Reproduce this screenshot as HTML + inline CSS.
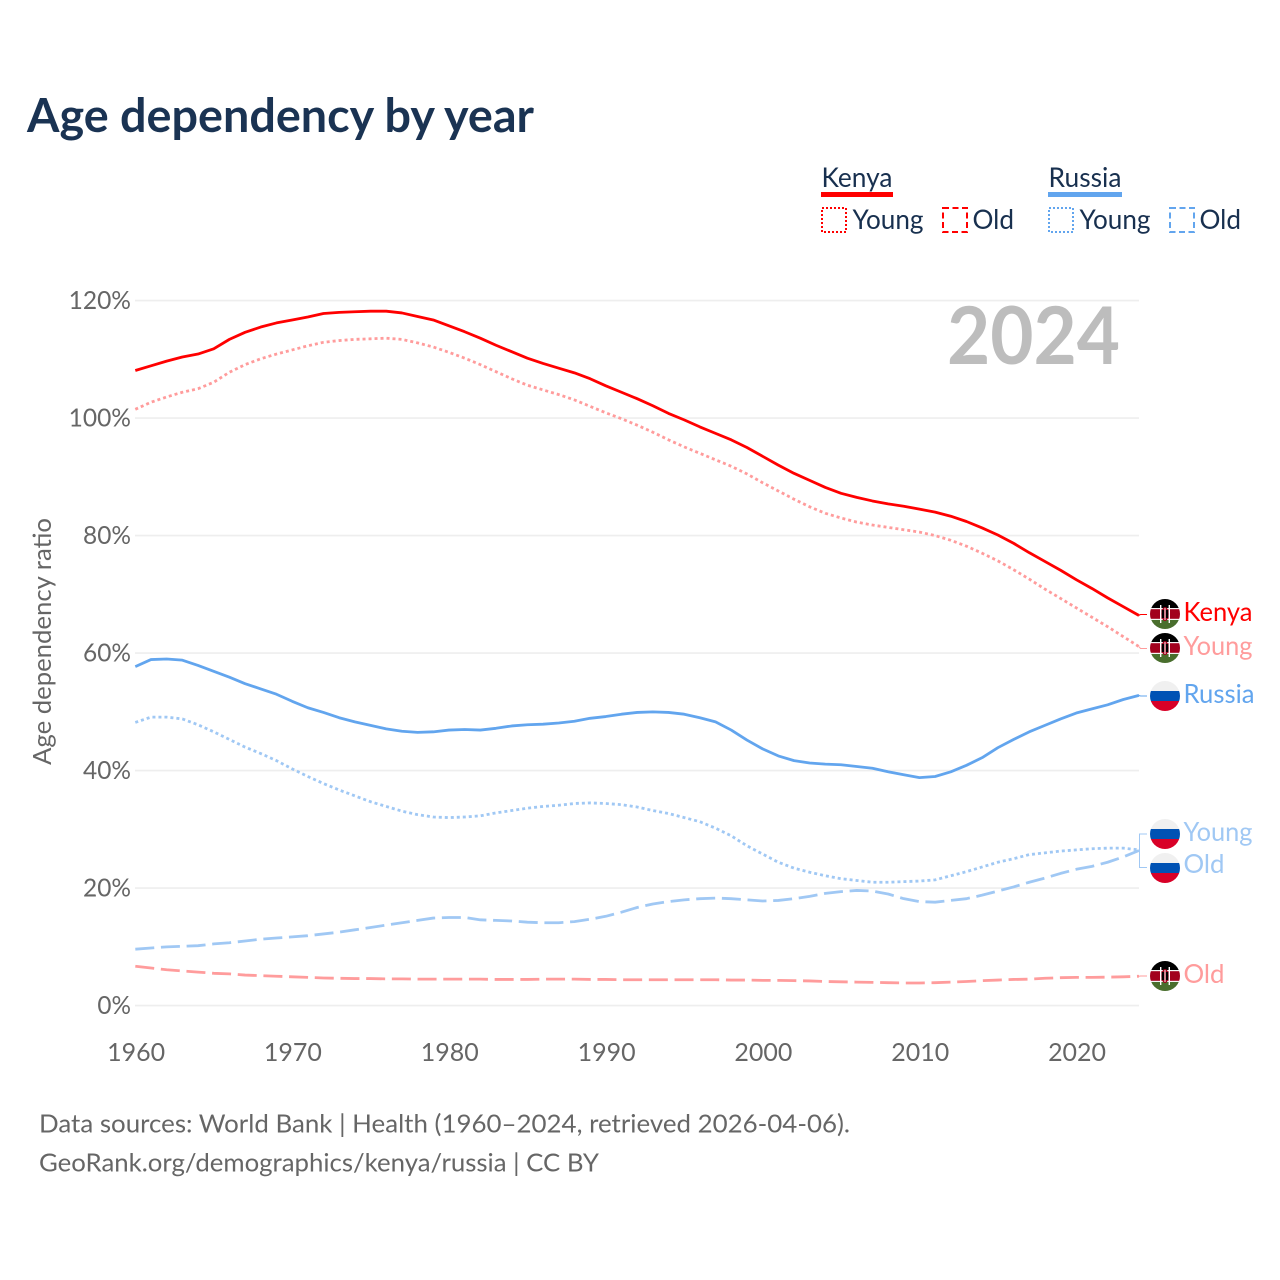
<!DOCTYPE html>
<html lang="en">
<head>
<meta charset="utf-8">
<title>Age dependency by year</title>
<style>
html,body{margin:0;padding:0;background:#fff;}
svg{display:block;}
text{font-family:"Lato","Carlito","Liberation Sans",sans-serif;}
</style>
</head>
<body>
<svg id="chart" xmlns="http://www.w3.org/2000/svg" width="1280" height="1280" viewBox="0 0 1280 1280">
  <defs>
    <clipPath id="flag-clip"><circle cx="0" cy="0" r="15"/></clipPath>
    <g id="flag-kenya">
      <g clip-path="url(#flag-clip)">
        <rect x="-15" y="-15" width="30" height="30" fill="#f4f4f4"/>
        <rect x="-15" y="-15" width="30" height="9" fill="#000"/>
        <rect x="-15" y="-4.8" width="30" height="9.6" fill="#a2001d"/>
        <rect x="-15" y="6" width="30" height="9" fill="#496e2d"/>
        <rect x="-5" y="-9" width="1.4" height="18" fill="#fff"/>
        <rect x="3.6" y="-9" width="1.4" height="18" fill="#fff"/>
        <ellipse cx="0" cy="0" rx="3.6" ry="7" fill="#a2001d"/>
        <rect x="-3.2" y="-4" width="2.2" height="8" fill="#000"/>
        <rect x="1" y="-4" width="2.2" height="8" fill="#000"/>
        <rect x="-0.5" y="-6" width="1" height="12" fill="#fff"/>
      </g>
    </g>
    <g id="flag-russia">
      <g clip-path="url(#flag-clip)">
        <rect x="-15" y="-15" width="30" height="10" fill="#f0f0f0"/>
        <rect x="-15" y="-5" width="30" height="10" fill="#0052b4"/>
        <rect x="-15" y="5" width="30" height="10" fill="#d80027"/>
      </g>
    </g>
  </defs>

  <rect x="0" y="0" width="1280" height="1280" fill="#ffffff"/>

  <text x="27" y="132" font-size="47" font-weight="700" fill="#1a3353" textLength="507" lengthAdjust="spacingAndGlyphs">Age dependency by year</text>

  <g font-size="27" fill="#18304f">
    <text x="821.5" y="187" textLength="71" lengthAdjust="spacingAndGlyphs">Kenya</text>
    <rect x="821" y="192" width="72" height="5" fill="#ff0000"/>
    <rect x="822" y="208" width="24" height="24" fill="none" stroke="#ff0000" stroke-width="2" stroke-dasharray="2 2"/>
    <text x="852.5" y="229" textLength="71" lengthAdjust="spacingAndGlyphs">Young</text>
    <rect x="943" y="208" width="24" height="24" fill="none" stroke="#ff0000" stroke-width="2" stroke-dasharray="6 3.5"/>
    <text x="972.5" y="229" textLength="41.5" lengthAdjust="spacingAndGlyphs">Old</text>
    <text x="1048.5" y="187" textLength="73" lengthAdjust="spacingAndGlyphs">Russia</text>
    <rect x="1048" y="192" width="74" height="5" fill="#62a5ee"/>
    <rect x="1049" y="208" width="24" height="24" fill="none" stroke="#62a5ee" stroke-width="2" stroke-dasharray="2 2"/>
    <text x="1079.5" y="229" textLength="71" lengthAdjust="spacingAndGlyphs">Young</text>
    <rect x="1170" y="208" width="24" height="24" fill="none" stroke="#62a5ee" stroke-width="2" stroke-dasharray="6 3.5"/>
    <text x="1199.5" y="229" textLength="41.5" lengthAdjust="spacingAndGlyphs">Old</text>
  </g>

  <g id="grid"></g>
  <g id="y-ticks"></g>
  <g id="x-ticks"></g>

  <text transform="translate(51,641.5) rotate(-90)" text-anchor="middle" font-size="25" fill="#666666" textLength="247" lengthAdjust="spacingAndGlyphs">Age dependency ratio</text>

  <text x="947" y="364" font-size="80" font-weight="700" fill="#bdbdbd" textLength="173" lengthAdjust="spacingAndGlyphs">2024</text>

  <g id="series"></g>
  <g id="connectors"></g>

  <g font-size="26">
    <use href="#flag-kenya" x="1165" y="614"/>
    <text x="1183.5" y="621" fill="#ff0000" textLength="69" lengthAdjust="spacingAndGlyphs">Kenya</text>
    <use href="#flag-kenya" x="1165" y="648"/>
    <text x="1183.5" y="655" fill="#ff9c9c" textLength="69" lengthAdjust="spacingAndGlyphs">Young</text>
    <use href="#flag-russia" x="1165" y="696"/>
    <text x="1183.5" y="703" fill="#62a5ee" textLength="71" lengthAdjust="spacingAndGlyphs">Russia</text>
    <use href="#flag-russia" x="1165" y="834"/>
    <text x="1183.5" y="841" fill="#a0c8f4" textLength="69" lengthAdjust="spacingAndGlyphs">Young</text>
    <use href="#flag-russia" x="1165" y="868"/>
    <text x="1183.5" y="873" fill="#a0c8f4" textLength="41" lengthAdjust="spacingAndGlyphs">Old</text>
    <use href="#flag-kenya" x="1165" y="976"/>
    <text x="1183.5" y="983" fill="#ff9c9c" textLength="41" lengthAdjust="spacingAndGlyphs">Old</text>
  </g>

  <g font-size="25.5" fill="#666666">
    <text x="39" y="1132.5" textLength="811" lengthAdjust="spacingAndGlyphs">Data sources: World Bank | Health (1960–2024, retrieved 2026-04-06).</text>
    <text x="39" y="1171.5" textLength="560" lengthAdjust="spacingAndGlyphs">GeoRank.org/demographics/kenya/russia | CC BY</text>
  </g>
</svg>

<script>
const startYear = 1960;
const xTickYears = [1960, 1970, 1980, 1990, 2000, 2010, 2020];
const yTickValues = [0, 20, 40, 60, 80, 100, 120];

const kenyaTotal = [108.1,108.9,109.7,110.4,110.9,111.8,113.4,114.6,115.5,116.2,116.7,117.2,117.8,118.0,118.1,118.2,118.2,117.9,117.3,116.7,115.7,114.7,113.6,112.4,111.3,110.2,109.3,108.5,107.7,106.7,105.5,104.4,103.3,102.1,100.8,99.7,98.5,97.4,96.3,95.0,93.5,92.0,90.6,89.4,88.2,87.2,86.5,85.9,85.4,85.0,84.5,84.0,83.3,82.4,81.3,80.1,78.7,77.1,75.6,74.1,72.5,71.0,69.4,67.9,66.4];
const kenyaYoung = [101.5,102.7,103.6,104.4,105.0,106.1,107.8,109.1,110.1,110.9,111.6,112.3,112.9,113.2,113.4,113.5,113.6,113.4,112.8,112.1,111.2,110.2,109.1,107.9,106.7,105.6,104.8,104.0,103.1,102.0,100.9,99.9,98.8,97.6,96.3,95.1,94.0,92.9,91.8,90.5,89.0,87.6,86.2,84.9,83.8,83.0,82.3,81.8,81.4,81.0,80.6,80.0,79.2,78.2,77.0,75.7,74.2,72.6,70.9,69.3,67.7,66.1,64.5,62.8,61.1];
const kenyaOld = [6.7,6.4,6.1,5.9,5.7,5.5,5.4,5.2,5.1,5.0,4.9,4.8,4.7,4.65,4.6,4.6,4.55,4.55,4.5,4.5,4.5,4.5,4.5,4.45,4.45,4.45,4.5,4.5,4.5,4.45,4.45,4.4,4.4,4.4,4.4,4.4,4.4,4.4,4.35,4.35,4.3,4.3,4.25,4.2,4.1,4.05,4.0,3.95,3.9,3.85,3.85,3.9,4.0,4.1,4.25,4.35,4.45,4.5,4.65,4.75,4.8,4.8,4.85,4.9,5.0];
const russiaTotal = [57.7,58.9,59.0,58.8,57.9,56.9,55.9,54.8,53.9,53.0,51.8,50.7,49.9,49.0,48.3,47.7,47.1,46.7,46.5,46.6,46.9,47.0,46.9,47.2,47.6,47.8,47.9,48.1,48.4,48.9,49.2,49.6,49.9,50.0,49.9,49.6,49.0,48.3,46.9,45.2,43.7,42.5,41.7,41.3,41.1,41.0,40.7,40.4,39.8,39.3,38.8,39.0,39.8,40.9,42.2,43.9,45.3,46.6,47.7,48.8,49.8,50.5,51.2,52.1,52.8];
const russiaYoung = [48.2,49.1,49.1,48.8,47.8,46.6,45.3,44.0,42.9,41.7,40.3,39.0,37.8,36.7,35.7,34.7,33.9,33.1,32.5,32.1,32.0,32.1,32.3,32.8,33.2,33.6,33.9,34.1,34.4,34.5,34.4,34.2,33.8,33.2,32.7,32.0,31.3,30.2,28.9,27.2,25.8,24.4,23.4,22.7,22.1,21.6,21.3,21.0,21.0,21.1,21.2,21.4,22.1,22.8,23.6,24.4,25.0,25.7,26.0,26.3,26.5,26.7,26.8,26.8,26.5];
const russiaOld = [9.6,9.8,10.0,10.1,10.2,10.5,10.7,11.0,11.3,11.5,11.7,11.9,12.2,12.5,12.9,13.3,13.7,14.1,14.5,14.9,15.0,15.0,14.6,14.5,14.4,14.2,14.1,14.1,14.3,14.7,15.2,15.9,16.7,17.3,17.7,18.0,18.2,18.3,18.2,18.0,17.8,17.9,18.2,18.6,19.1,19.4,19.6,19.5,19.0,18.2,17.7,17.6,17.9,18.2,18.8,19.5,20.2,21.0,21.7,22.5,23.2,23.7,24.4,25.3,26.4];

const svgNS = 'http://www.w3.org/2000/svg';
function xScale(year) { return 135.3 + (year - 1960) * (1139 - 135.3) / 64; }
function yScale(value) { return 1005.6 - value * (1005.6 - 300.6) / 120; }

function linePath(values) {
  return values.map(function (v, i) {
    return (i ? 'L' : 'M') + xScale(startYear + i).toFixed(2) + ' ' + yScale(v).toFixed(2);
  }).join(' ');
}

const gridGroup = document.getElementById('grid');
const yTickGroup = document.getElementById('y-ticks');
const xTickGroup = document.getElementById('x-ticks');
const seriesGroup = document.getElementById('series');
const connectorGroup = document.getElementById('connectors');

yTickValues.forEach(function (v) {
  const line = document.createElementNS(svgNS, 'line');
  
  
  line.setAttribute('x1', 135);
  line.setAttribute('x2', 1139);
  line.setAttribute('y1', yScale(v));
  line.setAttribute('y2', yScale(v));
  line.setAttribute('stroke', '#eeeeee');
  line.setAttribute('stroke-width', '1.6');
  gridGroup.appendChild(line);

  const label = document.createElementNS(svgNS, 'text');
  
  
  label.setAttribute('x', 131);
  label.setAttribute('y', yScale(v) + 8.6);
  label.setAttribute('text-anchor', 'end');
  label.setAttribute('font-size', '25');
  label.setAttribute('fill', '#666666');
  label.setAttribute('textLength', String(String(v).length * 14.4 + 19.2));
  label.setAttribute('lengthAdjust', 'spacingAndGlyphs');
  label.textContent = v + '%';
  yTickGroup.appendChild(label);
});

xTickYears.forEach(function (year) {
  const label = document.createElementNS(svgNS, 'text');
  
  
  label.setAttribute('x', xScale(year) + 0.8);
  label.setAttribute('y', 1061);
  label.setAttribute('text-anchor', 'middle');
  label.setAttribute('font-size', '25');
  label.setAttribute('fill', '#666666');
  label.setAttribute('textLength', '58');
  label.setAttribute('lengthAdjust', 'spacingAndGlyphs');
  label.textContent = year;
  xTickGroup.appendChild(label);
});

function drawSeries(name, values, color, dash) {
  const path = document.createElementNS(svgNS, 'path');
  
  
  path.setAttribute('d', linePath(values));
  path.setAttribute('fill', 'none');
  path.setAttribute('stroke', color);
  path.setAttribute('stroke-width', '2.8');
  path.setAttribute('stroke-linejoin', 'round');
  if (dash) path.setAttribute('stroke-dasharray', dash);
  seriesGroup.appendChild(path);
}

drawSeries('line-kenya-young', kenyaYoung, '#ff9c9c', '3 3');
drawSeries('line-kenya-old', kenyaOld, '#ff9c9c', '19 6.7');
drawSeries('line-russia-young', russiaYoung, '#a0c8f4', '3 3');
drawSeries('line-russia-old', russiaOld, '#a0c8f4', '19 6.7');
drawSeries('line-russia-total', russiaTotal, '#62a5ee', null);
drawSeries('line-kenya-total', kenyaTotal, '#ff0000', null);

function drawConnector(name, values, labelY, color) {
  const endY = yScale(values[values.length - 1]);
  const path = document.createElementNS(svgNS, 'path');
  
  
  path.setAttribute('d', 'M1139 ' + endY.toFixed(2) + ' L1140.5 ' + labelY + ' L1147 ' + labelY);
  path.setAttribute('fill', 'none');
  path.setAttribute('stroke', color);
  path.setAttribute('stroke-width', '1');
  connectorGroup.appendChild(path);
}

drawConnector('connector-kenya', kenyaTotal, 614.5, '#ff0000');
drawConnector('connector-kenya-young', kenyaYoung, 648.5, '#ff9c9c');
drawConnector('connector-russia', russiaTotal, 696, '#62a5ee');
drawConnector('connector-kenya-old', kenyaOld, 976, '#ff9c9c');

const bracket = document.createElementNS(svgNS, 'path');


bracket.setAttribute('d', 'M1147 834 H1139.5 V867.5 H1147');
bracket.setAttribute('fill', 'none');
bracket.setAttribute('stroke', '#a0c8f4');
bracket.setAttribute('stroke-width', '1');
connectorGroup.appendChild(bracket);
</script>
</body>
</html>
